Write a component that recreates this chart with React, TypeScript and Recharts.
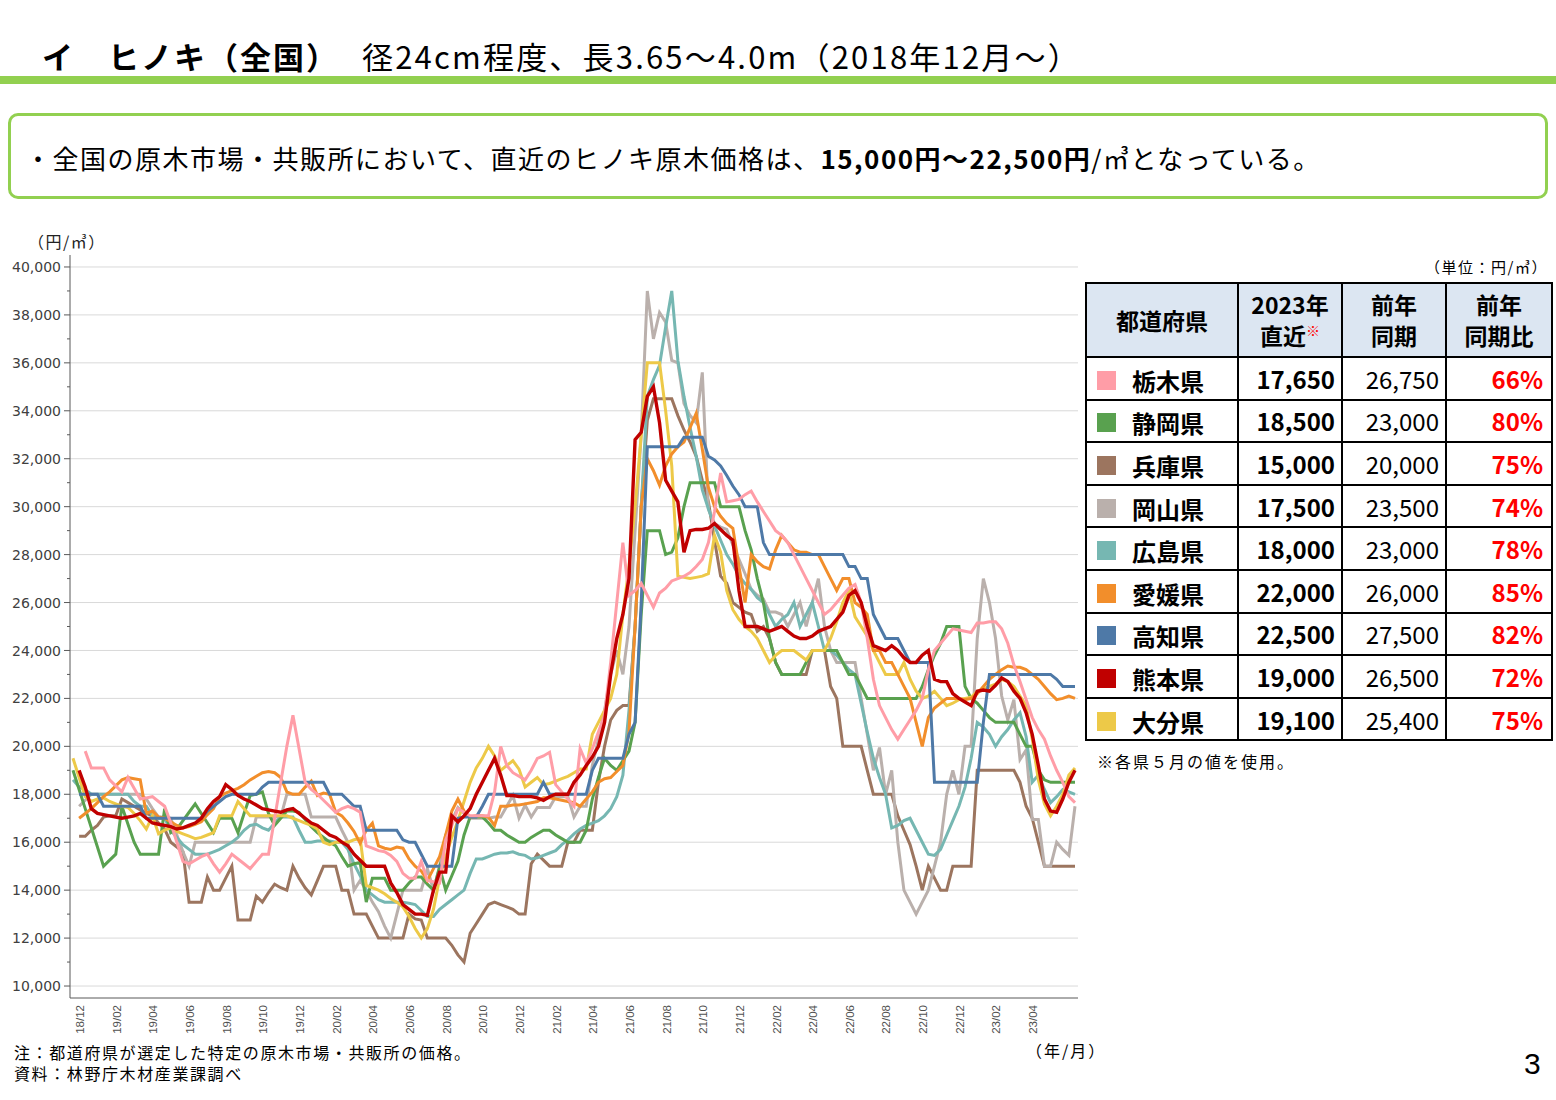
import React from 'react';
import { LineChart, Line, XAxis, YAxis, CartesianGrid } from 'recharts';

// ---------- categories (3 points per month, labels every 2 months) ----------
const months = [
  '18/12',
  '19/01','19/02','19/03','19/04','19/05','19/06','19/07','19/08','19/09','19/10','19/11','19/12',
  '20/01','20/02','20/03','20/04','20/05','20/06','20/07','20/08','20/09','20/10','20/11','20/12',
  '21/01','21/02','21/03','21/04','21/05','21/06','21/07','21/08','21/09','21/10','21/11','21/12',
  '22/01','22/02','22/03','22/04','22/05','22/06','22/07','22/08','22/09','22/10','22/11','22/12',
  '23/01','23/02','23/03','23/04','23/05','23/06',
];
const phases = ['1', '2', '3'];
const tickMonths = [
  '18/12', '19/02', '19/04', '19/06', '19/08', '19/10', '19/12',
  '20/02', '20/04', '20/06', '20/08', '20/10', '20/12',
  '21/02', '21/04', '21/06', '21/08', '21/10', '21/12',
  '22/02', '22/04', '22/06', '22/08', '22/10', '22/12',
  '23/02', '23/04',
];

// ---------- series values (円/㎥) ----------
const tochigi = [
  null, null, 19800, 19100, 19100, 19100, 18600, 18350, 18100, 18700,
  18250, 17800, 17850, 17900, 17700, 17500, 16800, 16000, 15200, 15100,
  15250, 15400, 15500, 15100, 14750, 15100, 15500, 15300, 15100, 14900,
  15200, 15500, 15500, 17000, 18500, 20000, 21300, 19900, 18500, 18200,
  18000, 17750, 17500, 17250, 17400, 17500, 17400, 17250, 15850, 15750,
  15650, 15600, 15450, 15200, 14700, 14500, 14500, 15200, 14400, 14350,
  14300, 16100, 16700, 17400, 17250, 17100, 17100, 17100, 17100, 18100,
  20000, 19200, 18900, 18750, 18600, 19000, 19500, 19600, 19750, 18400,
  18100, 17800, 17500, 19900, 19300, 19900, 20600, 21300, 23500, 26000,
  28500, 26300, 26500, 26800, 26300, 25800, 26400, 26600, 26900, 27000,
  27100, 27250, 27500, 27800, 28500, 29800, 31400, 30200, 30250, 30300,
  30500, 30650, 30200, 29800, 29400, 29000, 28800, 28500, 28000, 27500,
  27000, 26500, 26000, 25500, 25700, 26000, 26300, 26600, 26750, 26000,
  24500, 22800, 21700, 21200, 20700, 20300, 20700, 21100, 21500, 22000,
  23200, 24000, 24300, 24600, 24900, 24850, 24800, 24750, 25150, 25150,
  25200, 25200, 24900, 24300, 23400, 22700, 21950, 21200, 20700, 20300,
  19600, 19000, 18500, 17900, 17650,
];
const shizuoka = [
  19000, 18200, 17400, 16600, 15800, 15000, 15250, 15500, 17500, 16750,
  16000, 15500, 15500, 15500, 15500, 17400, 16400, 16550, 16900, 17250,
  17600, 17200, 16800, 16400, 17000, 17000, 17000, 16400, 17200, 17950,
  18000, 18100, 17200, 16700, 17000, 17300, 17300, 17250, 16950, 16650,
  16400, 16200, 16000, 15850, 15400, 15000, 15100, 15150, 13500, 14500,
  14500, 14500, 14000, 14000, 14000, 14300, 14550, 14550, 14250, 14000,
  14950, 14000, 14600, 15200, 16300, 17050, 17050, 17050, 16800, 16500,
  16500, 16300, 16150, 16000, 16000, 16200, 16350, 16500, 16500, 16300,
  16150, 16000, 16000, 16000, 16500, 17800, 18700, 19500, 19200, 19000,
  19400, 19800, 21000, 25500, 29000, 29000, 29000, 28000, 28100, 28700,
  30000, 31000, 31000, 31000, 31000, 31000, 30000, 30000, 30000, 30000,
  29000, 28200, 27000, 26000, 24500, 23500, 23000, 23000, 23000, 23000,
  23500, 24000, 24000, 24000, 24000, 24000, 23500, 23000, 23000, 22500,
  22000, 22000, 22000, 22000, 22000, 22000, 22000, 22000, 22000, 22500,
  23200, 23800, 24300, 25000, 25000, 25000, 22500, 22000, 21800, 21500,
  21200, 21000, 21000, 21000, 21000, 20500, 20000, 20000, 19000, 18600,
  18500, 18500, 18500, 18500, 18500,
];
const hyogo = [
  null, 16250, 16250, 16500, 16700, 17050, 17100, 17100, 17800, 17650,
  17500, 17350, 17200, 17100, 16800, 16550, 16000, 15800, 15600, 13500,
  13500, 13500, 14550, 14000, 14000, 14500, 15000, 12750, 12750, 12750,
  13750, 13500, 13900, 14250, 14100, 14000, 15000, 14500, 14100, 13800,
  14400, 15000, 15000, 15000, 14000, 14000, 13000, 13000, 13000, 12500,
  12000, 12000, 12000, 12000, 12000, 13000, 12800, 12750, 12000, 12000,
  12000, 12000, 11700, 11300, 11000, 12200, 12600, 13000, 13400, 13500,
  13400, 13300, 13200, 13000, 13000, 15100, 15500, 15250, 15000, 15000,
  15000, 16000, 16000, 16500, 16500, 16500, 18500, 20000, 21100, 21500,
  21700, 21700, 25000, 30000, 33600, 34500, 34500, 34500, 34500, 33800,
  33200, 32700, 32100, 31100, 30200, 28600, 27100, 26800, 26000, 25800,
  25600, 25500, 24800, 25000, 24500, 23500, 23000, 23000, 23000, 23000,
  23000, 24000, 24000, 24000, 22500, 22000, 20000, 20000, 20000, 20000,
  19000, 18000, 18000, 18000, 18000, 17100, 16500, 15900, 15000, 14000,
  15000, 14500, 14000, 14000, 15000, 15000, 15000, 15000, 19000, 19000,
  19000, 19000, 19000, 19000, 19000, 18500, 17500, 17000, 16000, 15000,
  15000, 15000, 15000, 15000, 15000,
];
const okayama = [
  null, 17500, 17750, 18000, 18000, 18000, 18000, 18000, 18000, 18000,
  18000, 18000, 17800, 17400, 17050, 17050, 17000, 16300, 15600, 15000,
  16000, 16000, 16000, 16000, 16000, 16000, 16000, 16000, 16000, 16000,
  17050, 17050, 17050, 17050, 17050, 18000, 18000, 18000, 18000, 17050,
  17050, 17050, 17050, 17050, 16500, 16000, 14000, 14400, 14000, 13500,
  13100, 12500, 12000, 13000, 14000, 14000, 14000, 14000, 14900, 14000,
  15000, 16300, 16900, 17450, 17200, 17000, 17000, 17000, 17000, 17050,
  17050, 17500, 17950, 17000, 17550, 17050, 17450, 17450, 17450, 17900,
  17900, 17900, 17050, 17500, 17500, 19200, 20300, 21500, 23000, 24000,
  23000, 25000, 29000, 33000, 39000, 37000, 38100, 37700, 36100, 36000,
  34300, 33800, 33500, 35600, 29900, 29300, 29150, 29050, 28400, 27800,
  27200, 26550, 26300, 26150, 25600, 25600, 25500, 25000, 25500, 26000,
  25000, 26000, 27000, 25000, 24000, 23500, 23500, 23500, 23500, 22000,
  20500, 19000, 19950, 18000, 19000, 16000, 14000, 13500, 13000, 13500,
  14000, 15000, 16000, 18000, 19000, 18000, 20000, 20000, 24500, 27000,
  26000, 24500, 22100, 21100, 21950, 19450, 19850, 16950, 16950, 15000,
  15000, 16000, 15700, 15450, 17500,
];
const hiroshima = [
  18600, 18300, 18200, 18000, 18000, 18000, 18000, 18000, 18000, 18000,
  17700, 17500, 17500, 17100, 17000, 17000, 16500, 16200, 15900, 15700,
  15500, 15500, 15500, 15600, 15700, 15850, 16000, 16200, 16500, 16700,
  16750, 16600, 16500, 16800, 17050, 17050, 17050, 16500, 16000, 16000,
  16050, 16050, 16050, 16000, 16000, 15700, 15100, 14600, 14000, 13800,
  13600, 13500, 13500, 13500, 13500, 13450, 13400, 13150, 12900, 12900,
  13200, 13400, 13600, 13800, 14000, 14700, 15300, 15300, 15400, 15500,
  15550, 15550, 15600, 15500, 15450, 15300, 15350, 15450, 15550, 15650,
  15900, 16100, 16350, 16550, 16700, 16800, 16900, 17100, 17400, 17900,
  18800, 21500, 25000, 30000, 34600, 35300, 35900, 37500, 39000, 36100,
  34600, 33300, 32100, 30700, 29900, 29200, 28600, 28000, 27600, 27100,
  26800, 26550, 26200, 26000, 25500, 25000, 25300, 25500, 26000, 25000,
  25500, 26000, 25000, 24000, 24000, 23800, 23500, 23200, 23000, 21800,
  20600, 19500, 18700, 18000, 16600, 16700, 16900, 17000, 16500, 16000,
  15500, 15450, 15700, 16300, 16900, 17500, 18300, 19500, 21000, 20800,
  20500, 20000, 20400, 20700, 21100, 21400, 20400, 18500, 18800, 18200,
  17650, 17900, 18200, 18100, 18000,
];
const ehime = [
  null, 17000, 17200, 17400, 17650, 17900, 18100, 18350, 18600, 18700,
  18650, 18600, 17200, 17300, 17050, 17000, 16850, 16700, 16600, 16650,
  16750, 16850, 17150, 17400, 17900, 18050, 18150, 18250, 18400, 18600,
  18750, 18900, 18950, 18900, 18700, 18100, 18000, 18000, 18300, 18550,
  17950, 18050, 18000, 17250, 17100, 16800, 16450, 15950, 16500, 16800,
  15850, 15750, 15700, 15800, 15750, 15300, 15000, 14800, 14400, 14900,
  15400, 16300, 17300, 17800, 17300, 17050, 17100, 17100, 17050, 16700,
  17500, 17500, 17550, 17550, 17600, 17650, 17700, 17850, 17850, 17800,
  17750, 17700, 17650, 17500, 17800, 18100, 18500, 18650, 18700, 18950,
  19200, 20600, 25000, 30000, 32000, 31500, 30900, 31700, 32200, 32500,
  32700, 33300, 33900, 32400, 30800, 30000, 29600, 29300, 29100, 27500,
  26000, 28000, 27700, 27500, 27400, 28200, 28800, 28500, 28200, 28100,
  28100, 28000, 28000, 27500, 27000, 26500, 27000, 27000, 26000, 25800,
  25500, 24000, 24000, 23500, 23500, 23000, 22500, 22000, 21000, 20000,
  21200, 21600, 21800, 22000, 22000, 22000, 21950, 22000, 22200, 22500,
  22800, 23000, 23200, 23350, 23300, 23300, 23200, 23000, 22800, 22500,
  22200, 21950, 22000, 22100, 22000,
];
const kochi = [
  null, 18000, 18000, 18000, 18000, 17500, 17500, 17500, 17500, 17500,
  17500, 17500, 17000, 17000, 17000, 17000, 17000, 17000, 17000, 17000,
  17000, 17000, 17300, 17500, 17700, 17900, 18000, 18000, 18000, 18000,
  18000, 18300, 18500, 18500, 18500, 18500, 18500, 18500, 18500, 18500,
  18500, 18500, 18000, 18000, 18000, 17750, 17500, 17500, 16500, 16500,
  16500, 16500, 16500, 16500, 16100, 16000, 16000, 15500, 15000, 15000,
  15000, 15000, 15000, 17000, 17050, 17050, 17050, 17500, 18000, 18000,
  18000, 18000, 18000, 18000, 18000, 18000, 18000, 18500, 18000, 18000,
  18000, 18000, 18000, 18000, 18000, 19000, 19500, 19500, 19500, 19500,
  19500, 20500, 21000, 26000, 32500, 32500, 32500, 32500, 32500, 32500,
  32900, 32900, 32900, 32900, 32100, 31950, 31700, 31300, 30860, 30500,
  30000, 30000, 30000, 28500, 28000, 28000, 28000, 28000, 28000, 28000,
  28000, 28000, 28000, 28000, 28000, 28000, 28000, 27500, 27500, 27000,
  27000, 25500, 25000, 24500, 24500, 24500, 24000, 23500, 23500, 23500,
  23500, 18500, 18500, 18500, 18500, 18500, 18500, 18500, 18500, 21000,
  23000, 23000, 23000, 23000, 23000, 23000, 23000, 23000, 23000, 23000,
  23000, 22800, 22500, 22500, 22500,
];
const kumamoto = [
  null, 19000, 18300, 17400, 17200, 17150, 17100, 17050, 17000, 17050,
  17100, 17200, 17000, 16800, 16750, 16700, 16650, 16550, 16600, 16700,
  16800, 17000, 17400, 17700, 17900, 18400, 18200, 17950, 17800, 17700,
  17550, 17400, 17350, 17300, 17250, 17350, 17400, 17200, 17000, 16800,
  16700, 16500, 16300, 16200, 16000, 15850, 15500, 15250, 15000, 15000,
  15000, 15000, 14300, 13900, 13400, 13200, 13000, 13000, 12950, 14000,
  14750, 14750, 17100, 16850, 17100, 17400, 18000, 18500, 19000, 19500,
  18800, 17950, 17950, 17900, 17900, 17900, 17850, 17750, 17900, 18000,
  18000, 18000, 18500, 18800, 19200, 19550, 20000, 21000, 23000, 24500,
  25500, 27000, 32800, 33100, 34600, 35000, 33500, 31100, 30650, 30200,
  28100, 29000, 29050, 29050, 29100, 29300, 29050, 28800, 28600, 26500,
  25000, 25000, 25000, 24900, 24800, 24900, 25000, 24800, 24600, 24500,
  24500, 24600, 24800, 24900, 25000, 25300, 25600, 26300, 26500, 26000,
  25000, 24200, 24100, 24000, 24200, 24000, 23700, 23500, 23500, 23800,
  24000, 22800, 22700, 22700, 22200, 22000, 21850, 21700, 22300, 22350,
  22300, 22550, 22850, 22700, 22300, 22000, 21400, 20500, 19200, 17800,
  17300, 17250, 17800, 18500, 19000,
];
const oita = [
  19500, 18700, 17900, 17700, 17800, 17850, 17700, 17600, 17500, 17450,
  17200, 16900, 16550, 17100, 16350, 16500, 16600, 16450, 16350, 16250,
  16150, 16200, 16300, 16400, 17100, 17100, 17100, 17700, 17400, 17100,
  17100, 17100, 17100, 17100, 17100, 17100, 17000, 16900, 16800, 16700,
  16550, 16000, 15900, 16000, 16000, 16000, 16100, 16150, 14200, 14100,
  14000, 13850, 13650, 13500, 13300, 12900, 12400, 12000, 12400, 13200,
  14500, 15400, 16200, 16900, 17700, 18500, 19100, 19500, 20000, 19600,
  19000, 19200, 19400, 19050, 18300, 18500, 18700, 18400, 18450, 18550,
  18650, 18750, 18900, 19050, 19050, 20500, 21000, 21500, 22000, 23000,
  25500, 27500, 30000, 33000, 36000, 36000, 36000, 34000, 31700, 27100,
  27050, 27000, 27050, 27100, 27200, 28800, 28100, 26500, 25700, 25300,
  25000, 24800, 24500, 24000, 23500, 23800, 24000, 24000, 24000, 23800,
  23600, 24000, 24000, 24000, 24500, 25200, 26000, 26500, 25400, 25000,
  24600, 24000, 23500, 23000, 23000, 23000, 23500, 22800, 22300, 22000,
  22100, 22300, 22000, 21700, 21800, 21950, 22000, 22050, 22300, 22400,
  22500, 22600, 22800, 22700, 22500, 22100, 21700, 20300, 18600, 17600,
  17100, 17500, 18000, 18800, 19100,
];

// ---------- table ----------
const prefNames = ['栃木県', '静岡県', '兵庫県', '岡山県', '広島県', '愛媛県', '高知県', '熊本県', '大分県'];
const seriesKeys = ['tochigi', 'shizuoka', 'hyogo', 'okayama', 'hiroshima', 'ehime', 'kochi', 'kumamoto', 'oita'];
const prefColors = ['#FF9DA7', '#59A14F', '#9C755F', '#BAB0AC', '#76B7B2', '#F28E2B', '#4E79A7', '#C00000', '#EDC948'];
const latest2023 = [17650, 18500, 15000, 17500, 18000, 22000, 22500, 19000, 19100];
const prevYear = [26750, 23000, 20000, 23500, 23000, 26000, 27500, 26500, 25400];
const yoyRatio = [66, 80, 75, 74, 78, 85, 82, 72, 75];

// ---------- axis ----------
const yTicks = [
  10000, 11000, 12000, 13000, 14000, 15000, 16000, 17000, 18000, 19000, 20000,
  21000, 22000, 23000, 24000, 25000, 26000, 27000, 28000, 29000, 30000,
  31000, 32000, 33000, 34000, 35000, 36000, 37000, 38000, 39000, 40000,
];
const gridValues = [10000, 12000, 14000, 16000, 18000, 20000, 22000, 24000, 26000, 28000, 30000, 32000, 34000, 36000, 38000, 40000];

const seriesValues = [tochigi, shizuoka, hyogo, okayama, hiroshima, ehime, kochi, kumamoto, oita];
const periods = months.flatMap((m) => phases.map((ph) => `${m}-${ph}`));
const xTicks = tickMonths.map((m) => `${m}-1`);
const chartData = periods.map((p, i) => {
  const row: Record<string, any> = { p };
  seriesKeys.forEach((k, s) => {
    row[k] = seriesValues[s][i];
  });
  return row;
});

const JP = '"Noto Sans CJK JP", "Noto Sans", sans-serif';
const AX = '"DejaVu Sans", Verdana, sans-serif';

const XTick = (props: any) => {
  const { x, y, payload } = props;
  const label = String(payload.value).split('-')[0];
  return (
    <text
      x={0}
      y={0}
      transform={`translate(${x + 11},${y}) rotate(-90)`}
      textAnchor="end"
      fontSize={11.5}
      fill="#505050"
      fontFamily='"Liberation Sans", Arial, sans-serif'
    >
      {label}
    </text>
  );
};

const YTick = (props: any) => {
  const { x, y, payload } = props;
  const v = Number(payload.value);
  const major = v % 2000 === 0;
  const ax = x + 8;
  return (
    <g>
      <line x1={ax - (major ? 6 : 3)} x2={ax} y1={y} y2={y} stroke="#595959" strokeWidth={1} />
      {major && (
        <text x={x - 1} y={y} dy="0.36em" textAnchor="end" fontSize={14} fill="#404040" fontFamily={AX}>
          {v.toLocaleString('en-US')}
        </text>
      )}
    </g>
  );
};

const drawOrder = [2, 3, 4, 1, 8, 5, 6, 0, 7];

export default function App() {
  return (
    <div
      style={{
        position: 'absolute',
        left: 0,
        top: 0,
        width: 1556,
        height: 1100,
        background: '#ffffff',
        overflow: 'hidden',
        fontFamily: JP,
        color: '#000',
      }}
    >
      {/* title */}
      <div style={{ position: 'absolute', left: 42, top: 38, fontSize: 31, lineHeight: '36px', fontWeight: 700, letterSpacing: 2, whiteSpace: 'nowrap' }}>
        イ　ヒノキ（全国）
      </div>
      <div style={{ position: 'absolute', left: 362, top: 38, fontSize: 31, lineHeight: '36px', letterSpacing: 2.2, whiteSpace: 'nowrap' }}>
        径24cm程度、長3.65～4.0m（2018年12月～）
      </div>
      <div style={{ position: 'absolute', left: 0, top: 76, width: 1556, height: 8, background: '#92D050' }} />

      {/* summary box */}
      <div
        style={{
          position: 'absolute',
          left: 8,
          top: 113,
          width: 1534,
          height: 80,
          border: '3px solid #92D050',
          borderRadius: 10,
        }}
      />
      <div style={{ position: 'absolute', left: 25, top: 142, fontSize: 26, lineHeight: '32px', letterSpacing: 1.5, whiteSpace: 'nowrap' }}>
        ・全国の原木市場・共販所において、直近のヒノキ原木価格は、
        <span style={{ fontWeight: 700 }}>15,000円～22,500円</span>/㎥となっている。
      </div>

      {/* chart */}
      <div style={{ position: 'absolute', left: 28, top: 230, fontSize: 16, lineHeight: '22px', letterSpacing: 1.5, whiteSpace: 'nowrap', color: '#222' }}>（円/㎥）</div>
      <div style={{ position: 'absolute', left: 0, top: 240 }}>
        <LineChart width={1100} height={830} data={chartData} margin={{ top: 15, right: 22, bottom: 32, left: 10 }}>
          <CartesianGrid horizontal vertical={false} horizontalValues={gridValues} stroke="#d9d9d9" />
          <XAxis
            dataKey="p"
            ticks={xTicks}
            interval={0}
            tick={<XTick />}
            tickLine={false}
            tickSize={0}
            tickMargin={7}
            height={40}
            padding={{ left: 3, right: 3 }}
            axisLine={{ stroke: '#595959' }}
          />
          <XAxis
            xAxisId="top"
            orientation="top"
            dataKey="p"
            tick={false}
            tickLine={false}
            height={0}
            padding={{ left: 3, right: 3 }}
            axisLine={{ stroke: '#595959' }}
          />
          <YAxis
            type="number"
            domain={[9500, 40500]}
            ticks={yTicks}
            interval={0}
            tick={<YTick />}
            tickLine={false}
            tickSize={7}
            tickMargin={1}
            width={60}
            axisLine={{ stroke: '#595959' }}
            allowDataOverflow
          />
          <YAxis
            yAxisId="r"
            orientation="right"
            domain={[0, 1]}
            tick={false}
            tickLine={false}
            width={0}
            axisLine={{ stroke: '#595959' }}
          />
          {drawOrder.map((s) => (
            <Line
              key={seriesKeys[s]}
              dataKey={seriesKeys[s]}
              name={prefNames[s]}
              stroke={prefColors[s]}
              strokeWidth={s === 7 ? 3.4 : 3}
              dot={false}
              activeDot={false}
              type="linear"
              isAnimationActive={false}
            />
          ))}
        </LineChart>
      </div>

      <div style={{ position: 'absolute', left: 14, top: 1041, fontSize: 16, lineHeight: '22px', letterSpacing: 1.6, whiteSpace: 'nowrap' }}>
        注：都道府県が選定した特定の原木市場・共販所の価格。
      </div>
      <div style={{ position: 'absolute', left: 14, top: 1062, fontSize: 16, lineHeight: '22px', letterSpacing: 1.6, whiteSpace: 'nowrap' }}>
        資料：林野庁木材産業課調べ
      </div>
      <div style={{ position: 'absolute', left: 1026, top: 1039, fontSize: 16, lineHeight: '22px', letterSpacing: 2, whiteSpace: 'nowrap' }}>（年/月）</div>
      <div style={{ position: 'absolute', left: 1524, top: 1046, fontSize: 30, lineHeight: '36px', fontFamily: '"Liberation Sans", Arial, sans-serif' }}>3</div>

      {/* table */}
      <div style={{ position: 'absolute', left: 1400, top: 257, width: 148, textAlign: 'right', fontSize: 15, lineHeight: '20px', letterSpacing: 1.5, whiteSpace: 'nowrap' }}>
        （単位：円/㎥）
      </div>
      <table
        style={{
          position: 'absolute',
          left: 1085,
          top: 282,
          width: 466,
          borderCollapse: 'collapse',
          tableLayout: 'fixed',
          fontFamily: JP,
        }}
      >
        <colgroup>
          <col style={{ width: 152 }} />
          <col style={{ width: 104 }} />
          <col style={{ width: 104 }} />
          <col style={{ width: 106 }} />
        </colgroup>
        <thead>
          <tr style={{ height: 74, background: '#DCE6F2' }}>
            {[
              ['都道府県'],
              ['2023年', '直近'],
              ['前年', '同期'],
              ['前年', '同期比'],
            ].map((lines, ci) => (
              <th
                key={ci}
                style={{ border: '2px solid #000', padding: 0, fontSize: 23, lineHeight: '31px', fontWeight: 700, textAlign: 'center' }}
              >
                {lines.map((t, li) => (
                  <div key={li} style={{ height: lines.length > 1 ? 31 : undefined }}>
                    {t}
                    {ci === 1 && li === 1 && (
                      <sup style={{ color: '#FF0000', fontSize: 14, lineHeight: '14px' }}>※</sup>
                    )}
                  </div>
                ))}
              </th>
            ))}
          </tr>
        </thead>
        <tbody>
          {prefNames.map((name, r) => (
            <tr key={name} style={{ height: 42.6 }}>
              <td style={{ border: '2px solid #000', padding: 0, fontSize: 24, fontWeight: 700, whiteSpace: 'nowrap' }}>
                <span
                  style={{
                    display: 'inline-block',
                    width: 19,
                    height: 19,
                    background: prefColors[r],
                    marginLeft: 10,
                    marginRight: 16,
                    verticalAlign: 'middle',
                  }}
                />
                <span style={{ verticalAlign: 'middle' }}>{name}</span>
              </td>
              <td style={{ border: '2px solid #000', padding: '0 6px 0 0', fontSize: 24, fontWeight: 700, textAlign: 'right' }}>
                {latest2023[r].toLocaleString('en-US')}
              </td>
              <td style={{ border: '2px solid #000', padding: '0 6px 0 0', fontSize: 24, textAlign: 'right' }}>
                {prevYear[r].toLocaleString('en-US')}
              </td>
              <td style={{ border: '2px solid #000', padding: '0 8px 0 0', fontSize: 24, fontWeight: 700, textAlign: 'right', color: '#FF0000' }}>
                {yoyRatio[r]}%
              </td>
            </tr>
          ))}
        </tbody>
      </table>
      <div style={{ position: 'absolute', left: 1097, top: 750, fontSize: 16, lineHeight: '22px', letterSpacing: 2, whiteSpace: 'nowrap' }}>
        ※各県５月の値を使用。
      </div>
    </div>
  );
}
